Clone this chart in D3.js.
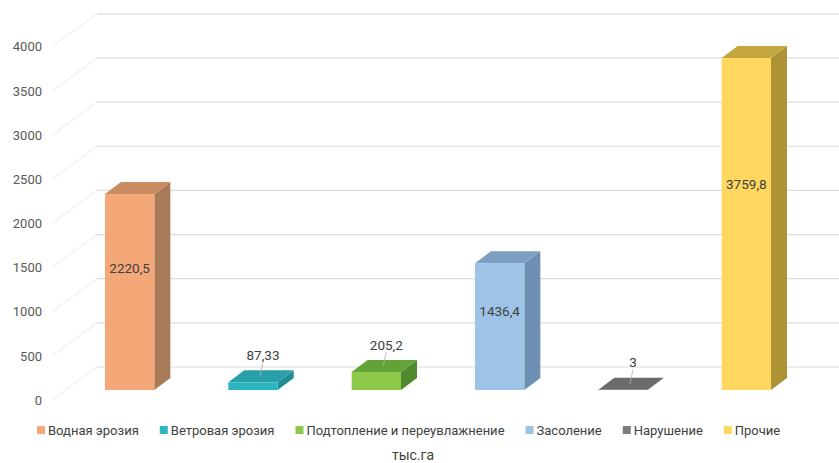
<!DOCTYPE html>
<html>
<head>
<meta charset="utf-8">
<script src="https://cdn.jsdelivr.net/npm/d3@7"></script>
<style>
  body { margin: 0; background: #fff; }
  text { font-family: Roboto, "Open Sans", sans-serif; fill: #404040; }
  .axis text { fill: #595959; font-size: 13px; }
</style>
</head>
<body>
<div id="chart"></div>
<script>
var svgWidth = 839;
var svgHeight = 463;

// data
var categories = ["Водная эрозия", "Ветровая эрозия", "Подтопление и переувлажнение", "Засоление", "Нарушение", "Прочие"];
var values = [2220.5, 87.33, 205.2, 1436.4, 3, 3759.8];
var valueLabels = ["2220,5", "87,33", "205,2", "1436,4", "3", "3759,8"];
var yTicks = [0, 500, 1000, 1500, 2000, 2500, 3000, 3500, 4000];
var unitLabel = "тыс.га";

// front, side, top shades per category
var frontColors = ["#f4a877", "#2bb5bf", "#8cc94a", "#9dc3e6", "#7d7d7d", "#ffd75e"];
var sideColors = ["#a87a58", "#1f8d94", "#4e8a2c", "#6d8fb2", "#5a5a5a", "#ad9236"];
var topColors = ["#c98b60", "#28a0a8", "#62a338", "#7f9fc2", "#6b6b6b", "#c4a63f"];

var svg = d3.select("#chart")
  .append("svg")
  .attr("width", svgWidth)
  .attr("height", svgHeight);

var x = d3.scaleBand()
  .domain(categories)
  .range([68, 808])
  .paddingInner(0.6)
  .paddingOuter(0.3);

var y = d3.scaleLinear()
  .domain([0, 4000])
  .range([390, 36.8]);

// depth offsets: back wall and bar thickness
var wallDx = 31, wallDy = -23;
var barDx = 16, barDy = -12;
var frontLeft = 66;

// very faint side wall lines
svg.append("g").selectAll("line")
  .data(yTicks)
  .enter()
  .append("line")
  .attr("x1", frontLeft - 14)
  .attr("y1", d => y(d) + 10)
  .attr("x2", frontLeft + wallDx)
  .attr("y2", d => y(d) + wallDy)
  .attr("stroke", "#f7f5f4")
  .attr("stroke-width", 2);

// back wall gridlines
svg.append("g").selectAll("line")
  .data(yTicks)
  .enter()
  .append("line")
  .attr("x1", frontLeft + wallDx)
  .attr("x2", svgWidth)
  .attr("y1", d => y(d) + wallDy)
  .attr("y2", d => y(d) + wallDy)
  .attr("stroke", "#dfdbd9")
  .attr("stroke-width", 1.2);

// y axis labels
var leftAxis = d3.axisLeft(y).tickValues(yTicks).tickFormat(d3.format("d")).tickSize(0).tickPadding(0);
var axisG = svg.append("g")
  .attr("class", "axis")
  .attr("transform", "translate(42, 10)")
  .call(leftAxis);
axisG.select(".domain").remove();
axisG.selectAll("text").style("font-family", "Roboto, sans-serif");

// bars
var bars = svg.append("g").selectAll("g")
  .data(values)
  .enter()
  .append("g");

bars.append("polygon")
  .attr("points", function(d, i) {
    var x0 = x(categories[i]) + x.bandwidth();
    return [[x0, y(d)], [x0 + barDx, y(d) + barDy], [x0 + barDx, y(0) + barDy], [x0, y(0)]].join(" ");
  })
  .attr("fill", (d, i) => sideColors[i]);

bars.append("polygon")
  .attr("points", function(d, i) {
    var x0 = x(categories[i]);
    var x1 = x0 + x.bandwidth();
    return [[x0, y(d)], [x0 + barDx, y(d) + barDy], [x1 + barDx, y(d) + barDy], [x1, y(d)]].join(" ");
  })
  .attr("fill", (d, i) => topColors[i]);

bars.append("rect")
  .attr("x", (d, i) => x(categories[i]))
  .attr("y", d => y(d))
  .attr("width", x.bandwidth())
  .attr("height", d => y(0) - y(d))
  .attr("fill", (d, i) => frontColors[i]);

// value labels
bars.each(function(d, i) {
  var g = d3.select(this);
  var cx = x(categories[i]) + x.bandwidth() / 2;
  if (d > 1000) {
    g.append("text")
      .attr("x", cx)
      .attr("y", y(d * 0.62))
      .attr("dy", "0.35em")
      .attr("text-anchor", "middle")
      .attr("font-size", "13.5px")
      .text(valueLabels[i]);
  } else {
    var lx = cx + barDx / 2 + 2;
    var ly = y(d) + barDy - 15;
    g.append("line")
      .attr("x1", lx)
      .attr("y1", ly + 7)
      .attr("x2", lx - 3)
      .attr("y2", y(d) + barDy / 2)
      .attr("stroke", "#b0b0b0")
      .attr("stroke-width", 0.8);
    g.append("text")
      .attr("x", lx)
      .attr("y", ly)
      .attr("dy", "0.35em")
      .attr("text-anchor", "middle")
      .attr("font-size", "13.5px")
      .text(valueLabels[i]);
  }
});

// legend
var legend = svg.append("g").attr("transform", "translate(0, 430)");
var lx = 37;
categories.forEach(function(c, i) {
  legend.append("rect")
    .attr("x", lx)
    .attr("y", -4)
    .attr("width", 8)
    .attr("height", 8)
    .attr("fill", frontColors[i]);
  var t = legend.append("text")
    .attr("x", lx + 11)
    .attr("y", 0)
    .attr("dy", "0.35em")
    .attr("font-size", "13px")
    .attr("fill", "#595959")
    .text(c);
  lx += 11 + t.node().getComputedTextLength() + 21;
});

svg.append("text")
  .attr("x", 413)
  .attr("y", 455)
  .attr("dy", "0.35em")
  .attr("text-anchor", "middle")
  .attr("font-size", "14px")
  .attr("fill", "#595959")
  .text(unitLabel);
</script>
</body>
</html>
